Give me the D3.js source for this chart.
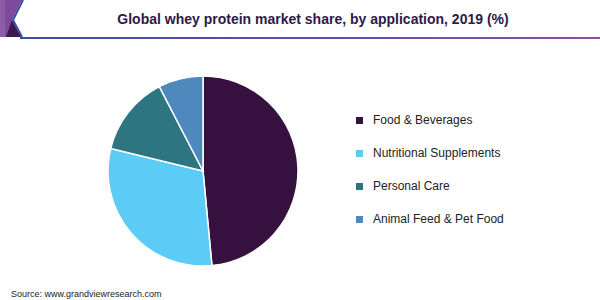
<!DOCTYPE html>
<html>
<head>
<meta charset="utf-8">
<script src="https://cdn.jsdelivr.net/npm/d3@7"></script>
<style>
  body { margin: 0; background: #fff; }
  svg { display: block; font-family: "Liberation Sans", Arial, sans-serif; }
</style>
</head>
<body>
<svg id="chart" width="600" height="300"></svg>
<script>
// data
const categories = ["Food & Beverages", "Nutritional Supplements", "Personal Care", "Animal Feed & Pet Food"];
const shares = [48.5, 30.3, 13.6, 7.6];
const colors = ["#36113f", "#5ccbf5", "#2e7582", "#4f88bd"];

const svg = d3.select("#chart");

// header decoration
const defs = svg.append("defs");
const grad = defs.append("linearGradient").attr("id", "hdr").attr("x1", "0%").attr("x2", "100%");
grad.append("stop").attr("offset", "0%").attr("stop-color", "#3a4ea6");
grad.append("stop").attr("offset", "100%").attr("stop-color", "#8c4f9f");

svg.append("path")
  .attr("d", "M0,0 L22,0 L12,20 L21,37 L0,37 Z")
  .attr("fill", "#7d4a9c");
svg.append("path")
  .attr("d", "M0,0 L5,0 L5,37 L0,37 Z")
  .attr("fill", "#8f5aa8");
svg.append("path")
  .attr("d", "M12,20 L6,37 L21,37 Z")
  .attr("fill", "#3b1a4d");
svg.append("path")
  .attr("d", "M23,0 L13,20 L22,37")
  .attr("fill", "none")
  .attr("stroke", "#3a4ea6")
  .attr("stroke-width", 2);
svg.append("rect")
  .attr("x", 20).attr("y", 37).attr("width", 580).attr("height", 2)
  .attr("fill", "url(#hdr)");

// title
svg.append("text")
  .attr("x", 313).attr("y", 24)
  .attr("text-anchor", "middle")
  .attr("font-size", 14)
  .attr("font-weight", "bold")
  .attr("fill", "#2e1a47")
  .text("Global whey protein market share, by application, 2019 (%)");

// pie
const cx = 203, cy = 171, r = 95;
const pie = d3.pie().sort(null).value(d => d)(shares);
const arc = d3.arc().innerRadius(0).outerRadius(r);

svg.append("g")
  .attr("transform", `translate(${cx},${cy})`)
  .selectAll("path")
  .data(pie)
  .join("path")
  .attr("d", arc)
  .attr("fill", (d, i) => colors[i])
  .attr("stroke", "#fff")
  .attr("stroke-width", 1.5);

// legend
const legend = svg.append("g").attr("transform", "translate(356,124)");
const items = legend.selectAll("g")
  .data(categories)
  .join("g")
  .attr("transform", (d, i) => `translate(0,${i * 33})`);
items.append("rect")
  .attr("x", 0).attr("y", -7).attr("width", 7).attr("height", 7)
  .attr("fill", (d, i) => colors[i]);
items.append("text")
  .attr("x", 17).attr("y", 0)
  .attr("font-size", 12)
  .attr("fill", "#222")
  .text(d => d);

// source
svg.append("text")
  .attr("x", 11).attr("y", 297)
  .attr("font-size", 9)
  .attr("fill", "#222")
  .text("Source: www.grandviewresearch.com");
</script>
</body>
</html>
